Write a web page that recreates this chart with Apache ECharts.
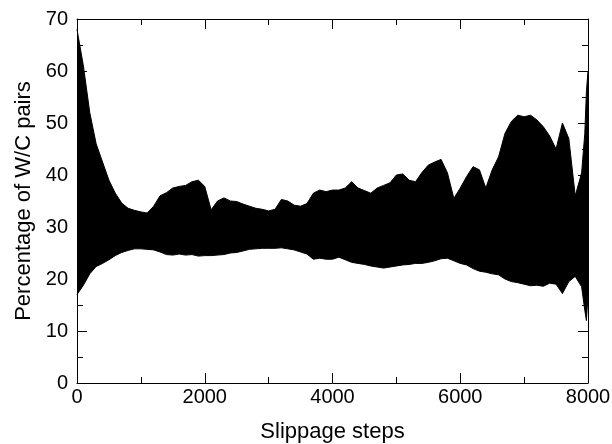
<!DOCTYPE html>
<html>
<head>
<meta charset="utf-8">
<script src="https://cdn.jsdelivr.net/npm/echarts@6/dist/echarts.min.js"></script>
<style>
html,body{margin:0;padding:0;background:#fff;}
#chart{width:612px;height:444px;}
</style>
</head>
<body>
<div id="chart"></div>
<script>
// Slippage step positions of the envelope samples
const steps = [0,100,200,300,400,500,600,700,800,900,1000,1100,1200,1300,1400,1500,1600,1700,1800,1900,
  2000,2100,2200,2300,2400,2500,2600,2700,2800,2900,3000,3100,3200,3300,3400,3500,3600,3700,3800,3900,
  4000,4100,4200,4300,4400,4500,4600,4700,4800,4900,5000,5100,5200,5300,5400,5500,5600,5700,5800,5900,
  6000,6100,6200,6300,6400,6500,6600,6700,6800,6900,7000,7100,7200,7300,7400,7500,7600,7700,7800,7900,
  7950,7975,8000];
// Upper envelope of the oscillating percentage (%)
const upperEnvelope = [68,61,52,46,42.5,39,36.5,34.6,33.6,33.2,32.9,32.7,34,36,36.6,37.5,37.8,38,38.7,39,
  37.8,33.3,35,35.6,35,34.9,34.4,34,33.6,33.4,33.1,33.4,35.3,35,34.2,34,34.5,36.5,37.1,36.8,
  37.1,37.1,37.5,38.7,37.5,37,36.5,37.5,38,38.5,40,40.2,39,38.7,40.5,41.9,42.5,43,40.4,35.5,
  37.5,39.7,41.6,41,37.5,41,43.5,48,50.3,51.5,51.2,51.5,50.6,49.3,47.5,45,50,47,36,40.4,
  48,56,60];
// Lower envelope of the oscillating percentage (%)
const lowerEnvelope = [17,18.8,21,22.4,23,23.7,24.5,25.1,25.5,25.8,25.8,25.7,25.6,25.2,24.7,24.6,24.8,24.6,24.7,24.4,
  24.5,24.5,24.6,24.7,25,25.1,25.4,25.7,25.8,25.9,25.9,25.9,26,25.8,25.6,25.2,24.8,23.8,24,23.8,
  23.8,24.2,23.7,23.2,23,22.8,22.5,22.3,22.1,22.3,22.5,22.7,22.8,23,23,23.2,23.5,23.9,24,23.5,
  23,22.7,22,21.5,21.3,21,20.8,20,19.5,19.3,19,18.7,18.8,18.6,19.2,19,17.2,19.5,20.5,18.5,
  14,12,17];
const xTicks = [0,2000,4000,6000,8000];
const yTicks = [0,10,20,30,40,50,60,70];

const upperData = steps.map((s,i)=>[s, upperEnvelope[i]]);
const lowerData = steps.map((s,i)=>[s, lowerEnvelope[i]]);

const FONT = 'Liberation Sans';
function axisCommon(){
  return {
    z:10,
    axisLine:{show:true,onZero:false,lineStyle:{color:'#000',width:1}},
    axisTick:{show:true,inside:true,length:10,lineStyle:{color:'#000',width:1}},
    minorTick:{show:true,splitNumber:2,length:6,lineStyle:{color:'#000',width:1}},
    splitLine:{show:false}
  };
}
const chart = echarts.init(document.getElementById('chart'));
chart.setOption({
  animation:false,
  backgroundColor:'#fff',
  grid:{left:77,right:24,top:19,bottom:61,containLabel:false,outerBoundsMode:'none'},
  xAxis:[
    Object.assign({type:'value',min:xTicks[0],max:xTicks[xTicks.length-1],interval:2000,position:'bottom',
      name:'Slippage steps',nameLocation:'middle',nameGap:38,
      nameTextStyle:{fontFamily:FONT,fontSize:22,color:'#000'},
      axisLabel:{show:true,margin:4,fontFamily:FONT,fontSize:20,color:'#000',formatter:v=>String(v)}},axisCommon()),
    Object.assign({type:'value',min:xTicks[0],max:xTicks[xTicks.length-1],interval:2000,position:'top',
      axisLabel:{show:false}},axisCommon())
  ],
  yAxis:[
    Object.assign({type:'value',min:yTicks[0],max:yTicks[yTicks.length-1],interval:10,position:'left',
      name:'Percentage of W/C pairs',nameLocation:'middle',nameGap:37,
      nameTextStyle:{fontFamily:FONT,fontSize:22,color:'#000'},
      axisLabel:{show:true,margin:9,fontFamily:FONT,fontSize:20,color:'#000',formatter:v=>String(v)}},axisCommon()),
    Object.assign({type:'value',min:yTicks[0],max:yTicks[yTicks.length-1],interval:10,position:'right',
      axisLabel:{show:false}},axisCommon())
  ],
  series:[
    {type:'line',data:upperData,symbol:'none',
      lineStyle:{color:'#000',width:1},areaStyle:{color:'#000',opacity:1,origin:'start'},z:2},
    {type:'line',data:lowerData,symbol:'none',
      lineStyle:{color:'#000',width:1},areaStyle:{color:'#fff',opacity:1,origin:'start'},z:3}
  ]
});
</script>
</body>
</html>
